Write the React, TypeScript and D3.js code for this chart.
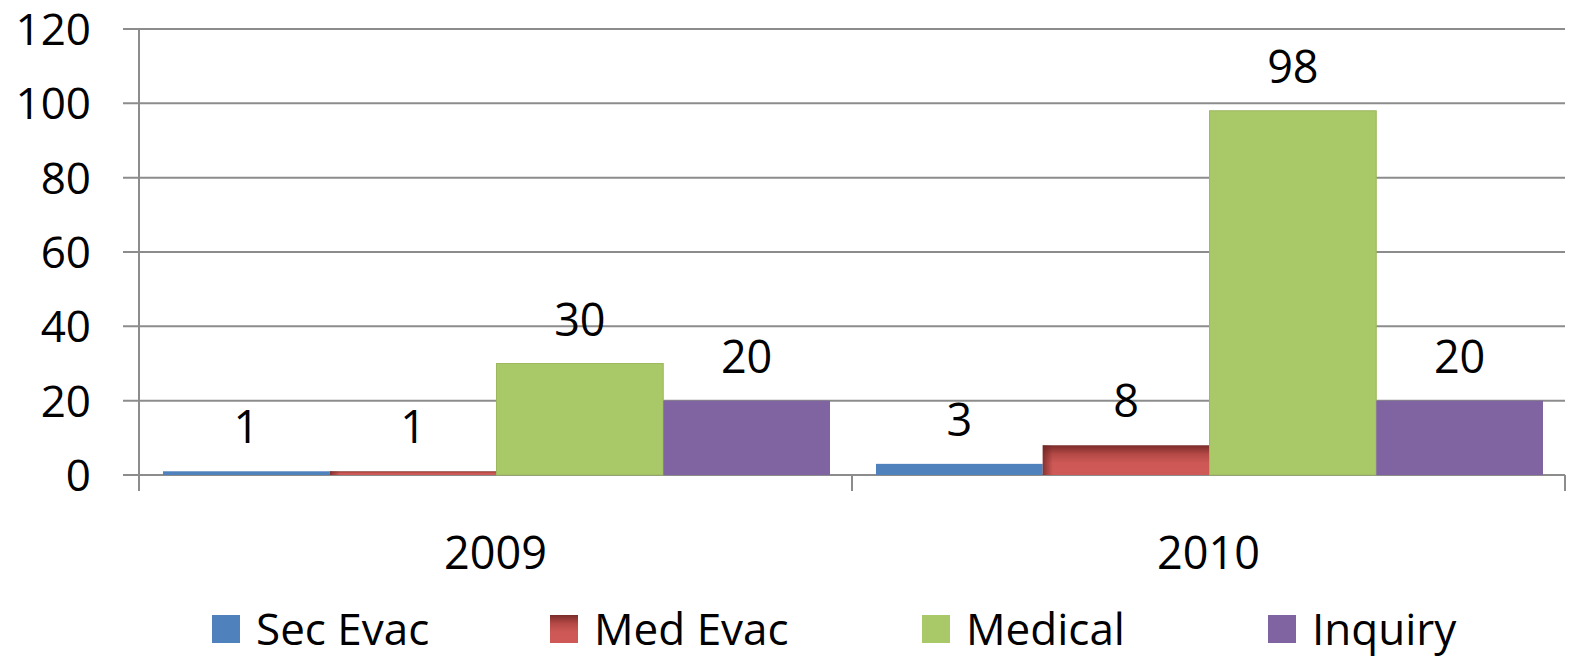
import React from "react";
import * as d3 from "d3";

const categories = ["2009", "2010"];
const seriesNames = ["Sec Evac", "Med Evac", "Medical", "Inquiry"];
const secEvac = [1, 3];
const medEvac = [1, 8];
const medical = [30, 98];
const inquiry = [20, 20];
const yTicks = [0, 20, 40, 60, 80, 100, 120];
const seriesColors = ["#4F81BD", "url(#medGradV)", "#A9C868", "#8064A2"];
const legendSwatch = ["#4F81BD", "url(#medGradV)", "#A9C868", "#8064A2"];

const W = 1574;
const H = 658;
const left = 139;
const right = 1565;
const top = 29;
const bottom = 475;
const FONT = "'Open Sans', 'Noto Sans', sans-serif";

export default function App() {
  const values = [secEvac, medEvac, medical, inquiry];
  const y = d3.scaleLinear().domain([0, 120]).range([bottom, top]);
  const x0 = d3.scaleBand().domain(categories).range([left, right]).padding(0);
  const bw = x0.bandwidth();
  const x1 = d3.scaleBand().domain(seriesNames).range([24, bw - 22]).padding(0);
  const legendX = [212, 550, 922, 1268];

  return (
    <svg width={W} height={H} style={{ position: "absolute", left: 0, top: 0, background: "#fff" }}>
      <defs>
        <linearGradient id="medGradV" x1="0" y1="0" x2="0" y2="1">
          <stop offset="0" stopColor="#7A2C2A" />
          <stop offset="0.3" stopColor="#B44946" />
          <stop offset="0.6" stopColor="#CD5855" />
          <stop offset="1" stopColor="#CF5956" />
        </linearGradient>
        <linearGradient id="medGradH" x1="0" y1="0" x2="1" y2="0">
          <stop offset="0" stopColor="#6E2624" stopOpacity="0.75" />
          <stop offset="0.06" stopColor="#6E2624" stopOpacity="0" />
          <stop offset="1" stopColor="#6E2624" stopOpacity="0" />
        </linearGradient>
      </defs>
      {yTicks.map((t) => (
        <line key={t} x1={123} x2={right} y1={y(t)} y2={y(t)} stroke="#8C8C8C" strokeWidth={2} />
      ))}
      <line x1={left} x2={left} y1={top} y2={491} stroke="#8C8C8C" strokeWidth={2} />
      {[...categories.map((c) => x0(c)!), right].map((xv, i) => (
        <line key={i} x1={xv} x2={xv} y1={bottom} y2={491} stroke="#8C8C8C" strokeWidth={2} />
      ))}
      {yTicks.map((t) => (
        <text key={t} x={91} y={y(t) + 16} textAnchor="end" fontFamily={FONT} fontSize={44} fill="#000">
          {t}
        </text>
      ))}
      {categories.map((c, ci) => (
        <g key={c} transform={`translate(${x0(c)},0)`}>
          {seriesNames.map((s, si) => {
            const v = values[si][ci];
            const bx = x1(s)!;
            const by = y(v);
            const bh = bottom - by;
            return (
              <g key={s}>
                <rect x={bx} y={by} width={x1.bandwidth()} height={bh} fill={seriesColors[si]}
                  stroke={si === 2 ? "#9DB85E" : "none"} strokeWidth={si === 2 ? 1 : 0} />
                {si === 1 && (
                  <rect x={bx} y={by} width={x1.bandwidth()} height={bh} fill="url(#medGradH)" />
                )}
                <text x={bx + x1.bandwidth() / 2} y={by - 28} textAnchor="middle" fontFamily={FONT} fontSize={45} fill="#000">
                  {v}
                </text>
              </g>
            );
          })}
          <text x={bw / 2} y={569} textAnchor="middle" fontFamily={FONT} fontSize={45} fill="#000">
            {c}
          </text>
        </g>
      ))}
      {seriesNames.map((s, i) => (
        <g key={s} transform={`translate(${legendX[i]},0)`}>
          <rect x={0} y={615} width={28} height={28} fill={legendSwatch[i]} />
          <text x={44} y={645} fontFamily={FONT} fontSize={44} fill="#000">
            {s}
          </text>
        </g>
      ))}
    </svg>
  );
}
